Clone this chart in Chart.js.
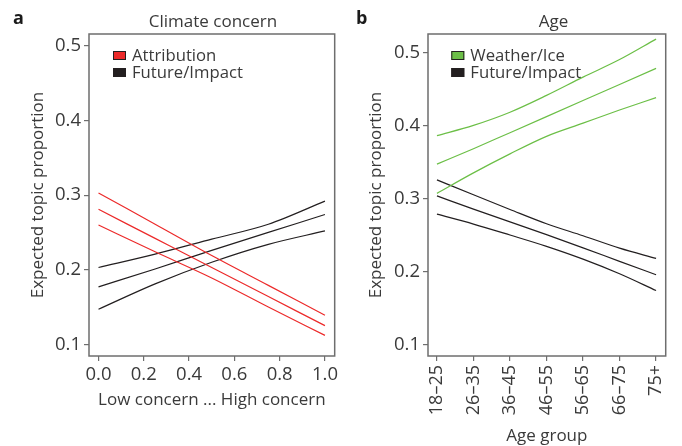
<!DOCTYPE html>
<html>
<head>
<meta charset="utf-8">
<script src="https://cdn.jsdelivr.net/npm/chart.js@4.4.0/dist/chart.umd.min.js"></script>
<style>
  html, body { margin: 0; padding: 0; background: #fff; }
  #wrap { position: relative; width: 682px; height: 446px; }
  canvas { position: absolute; top: 0; }
  #chartA { left: 0; }
  #chartB { left: 341px; }
</style>
</head>
<body>
<div id="wrap">
  <canvas id="chartA" width="341" height="446"></canvas>
  <canvas id="chartB" width="341" height="446"></canvas>
</div>
<script>
'use strict';

// panel a: climate concern (0 = low, 1 = high)
const concernX = [ 0, 0.25, 0.5, 0.75, 1.0 ];
const concernTicks = [ 0, 0.2, 0.4, 0.6, 0.8, 1.0 ];
const attribUpper = [ 0.303, 0.261, 0.219, 0.179, 0.139 ];
const attribMean = [ 0.281, 0.242, 0.203, 0.164, 0.125 ];
const attribLower = [ 0.260, 0.224, 0.189, 0.150, 0.112 ];
const futureAUpper = [ 0.203, 0.221, 0.241, 0.261, 0.292 ];
const futureAMean = [ 0.177, 0.201, 0.226, 0.250, 0.274 ];
const futureALower = [ 0.147, 0.181, 0.210, 0.234, 0.252 ];

// panel b: age group
const ageGroups = [ '18–25', '26–35', '36–45', '46–55', '56–65', '66–75', '75+' ];
const weatherUpper = [ 0.386, 0.400, 0.418, 0.441, 0.466, 0.490, 0.518 ];
const weatherMean = [ 0.347, 0.368, 0.390, 0.412, 0.434, 0.456, 0.478 ];
const weatherLower = [ 0.307, 0.335, 0.361, 0.385, 0.403, 0.421, 0.438 ];
const futureBUpper = [ 0.3255, 0.305, 0.285, 0.2655, 0.249, 0.232, 0.218 ];
const futureBMean = [ 0.3035, 0.2855, 0.268, 0.2505, 0.2325, 0.214, 0.1957 ];
const futureBLower = [ 0.2785, 0.265, 0.250, 0.2345, 0.217, 0.197, 0.174 ];

const yTicks = [ 0.1, 0.2, 0.3, 0.4, 0.5 ];

const RED = '#ec2a2a';
const GREEN = '#6cbf47';
const BLACK = '#231f20';
const TEXT = '#3a3a3a';
const AXIS = '#6e6e6e';
const FONT = '"Open Sans", sans-serif';

function line( xs, ys, color ) {
  return {
    data: ys.map( ( y, i ) => ( { x: xs[i], y: y } ) ),
    borderColor: color,
    borderWidth: 1.2,
    pointRadius: 0,
    cubicInterpolationMode: 'monotone',
    fill: false
  };
}

const framePlugin = {
  id: 'frame',
  afterDraw( chart, args, opts ) {
    const ctx = chart.ctx;
    const a = chart.chartArea;
    ctx.save();
    ctx.strokeStyle = AXIS;
    ctx.lineWidth = 1.5;
    ctx.strokeRect( a.left, a.top, a.right - a.left, a.bottom - a.top );

    ctx.fillStyle = '#1a1a1a';
    ctx.textBaseline = 'alphabetic';
    ctx.textAlign = 'left';
    ctx.font = 'bold 18px ' + FONT;
    ctx.fillText( opts.letter, opts.letterX, 24 );

    ctx.fillStyle = TEXT;
    ctx.textAlign = 'center';
    ctx.font = '17px ' + FONT;
    ctx.fillText( opts.title, opts.titleX, 27 );

    ctx.textAlign = 'left';
    ctx.font = '16.7px ' + FONT;
    opts.legend.forEach( ( item, i ) => {
      const base = opts.legendY + i * 17;
      ctx.fillStyle = item.color;
      ctx.fillRect( opts.legendX, base - 9.5, 13, 9 );
      ctx.strokeStyle = BLACK;
      ctx.lineWidth = 1;
      ctx.strokeRect( opts.legendX + 0.5, base - 9, 12, 8 );
      ctx.fillStyle = TEXT;
      ctx.fillText( item.label, opts.legendX + 19, base );
    } );
    ctx.restore();
  }
};

function yAxis( min, max, width, titlePad ) {
  return {
    type: 'linear',
    min: min,
    max: max,
    afterBuildTicks: ( scale ) => { scale.ticks = yTicks.map( v => ( { value: v } ) ); },
    afterFit: ( scale ) => { scale.width = width; },
    grid: { drawOnChartArea: false, drawTicks: true, tickLength: 5, color: AXIS, lineWidth: 1.2 },
    border: { display: false },
    ticks: {
      padding: 3,
      color: TEXT,
      font: { family: FONT, size: 18.5 },
      callback: v => v.toFixed( 1 )
    },
    title: {
      display: true,
      text: 'Expected topic proportion',
      color: TEXT,
      font: { family: FONT, size: 17 },
      padding: { top: titlePad, bottom: 0 }
    }
  };
}

const chartA = new Chart( document.getElementById( 'chartA' ), {
  type: 'line',
  data: {
    datasets: [
      line( concernX, attribUpper, RED ),
      line( concernX, attribMean, RED ),
      line( concernX, attribLower, RED ),
      line( concernX, futureAUpper, BLACK ),
      line( concernX, futureAMean, BLACK ),
      line( concernX, futureALower, BLACK )
    ]
  },
  options: {
    responsive: false,
    animation: false,
    devicePixelRatio: 1,
    layout: { padding: { top: 34, right: 1, bottom: 0, left: 0 } },
    plugins: {
      legend: { display: false },
      tooltip: { enabled: false },
      frame: {
        letter: 'a', letterX: 13,
        title: 'Climate concern', titleX: 213,
        legendX: 113, legendY: 60.5,
        legend: [ { label: 'Attribution', color: RED }, { label: 'Future/Impact', color: BLACK } ]
      }
    },
    scales: {
      x: {
        type: 'linear',
        min: -0.042,
        max: 1.043,
        afterBuildTicks: ( scale ) => { scale.ticks = concernTicks.map( v => ( { value: v } ) ); },
        afterFit: ( scale ) => { scale.height = 90; },
        grid: { drawOnChartArea: false, drawTicks: true, tickLength: 5, color: AXIS, lineWidth: 1.2 },
        border: { display: false },
        ticks: {
          padding: 3,
          maxRotation: 0,
          autoSkip: false,
          color: TEXT,
          font: { family: FONT, size: 18.5 },
          callback: v => v.toFixed( 1 )
        },
        title: {
          display: true,
          text: 'Low concern ... High concern',
          color: TEXT,
          font: { family: FONT, size: 17 },
          padding: { top: 0, bottom: 35.5 }
        }
      },
      y: yAxis( 0.0843, 0.5161, 89, 28.3 )
    }
  },
  plugins: [ framePlugin ]
} );

const ageX = ageGroups.map( ( g, i ) => i );

const chartB = new Chart( document.getElementById( 'chartB' ), {
  type: 'line',
  data: {
    datasets: [
      line( ageX, weatherUpper, GREEN ),
      line( ageX, weatherMean, GREEN ),
      line( ageX, weatherLower, GREEN ),
      line( ageX, futureBUpper, BLACK ),
      line( ageX, futureBMean, BLACK ),
      line( ageX, futureBLower, BLACK )
    ]
  },
  options: {
    responsive: false,
    animation: false,
    devicePixelRatio: 1,
    layout: { padding: { top: 34, right: 8, bottom: 0, left: 0 } },
    plugins: {
      legend: { display: false },
      tooltip: { enabled: false },
      frame: {
        letter: 'b', letterX: 15,
        title: 'Age', titleX: 212.5,
        legendX: 110.3, legendY: 60.5,
        legend: [ { label: 'Weather/Ice', color: GREEN }, { label: 'Future/Impact', color: BLACK } ]
      }
    },
    scales: {
      x: {
        type: 'linear',
        min: -0.245,
        max: 6.264,
        afterBuildTicks: ( scale ) => { scale.ticks = ageX.map( v => ( { value: v } ) ); },
        afterFit: ( scale ) => { scale.height = 90; },
        grid: { drawOnChartArea: false, drawTicks: true, tickLength: 5, color: AXIS, lineWidth: 1.2 },
        border: { display: false },
        ticks: {
          padding: 4,
          minRotation: 90,
          maxRotation: 90,
          autoSkip: false,
          color: TEXT,
          font: { family: FONT, size: 18 },
          callback: v => ageGroups[v]
        },
        title: {
          display: true,
          text: 'Age group',
          color: TEXT,
          font: { family: FONT, size: 17 },
          padding: { top: 0, bottom: 0 }
        }
      },
      y: yAxis( 0.0845, 0.525, 87, 25.3 )
    }
  },
  plugins: [ framePlugin ]
} );
</script>
</body>
</html>
